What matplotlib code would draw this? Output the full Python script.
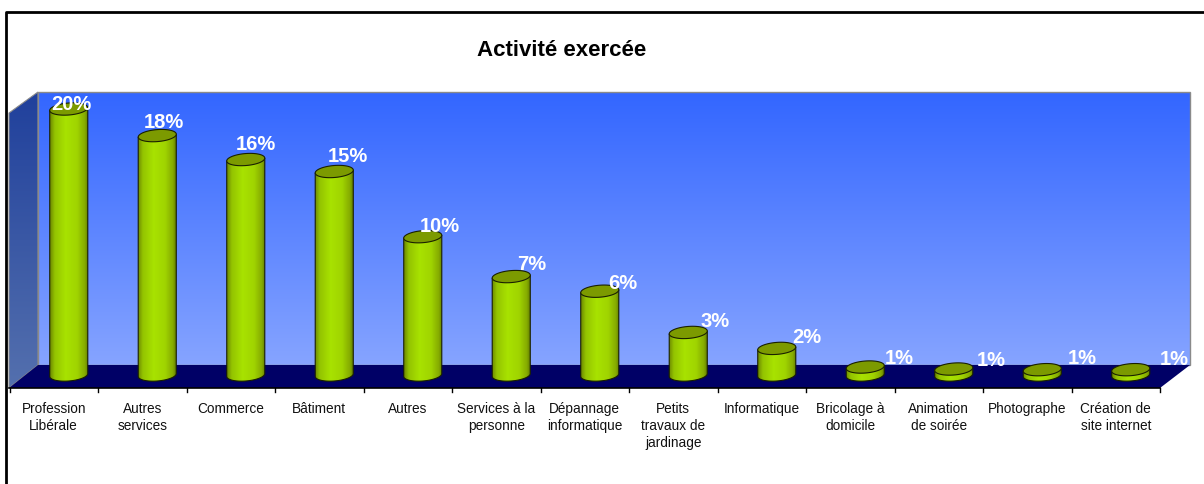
import numpy as np
import matplotlib
matplotlib.use("Agg")
import matplotlib.pyplot as plt
from matplotlib.patches import Polygon, PathPatch
from matplotlib.path import Path
from matplotlib.colors import LinearSegmentedColormap

categories = ["Profession\nLibérale", "Autres\nservices", "Commerce", "Bâtiment", "Autres",
              "Services à la\npersonne", "Dépannage\ninformatique", "Petits\ntravaux de\njardinage",
              "Informatique", "Bricolage à\ndomicile", "Animation\nde soirée", "Photographe",
              "Création de\nsite internet"]
heights = [20.0, 18.0, 16.2, 15.3, 10.4, 7.4, 6.3, 3.2, 2.0, 0.6, 0.45, 0.4, 0.4]
labels = ["20%", "18%", "16%", "15%", "10%", "7%", "6%", "3%", "2%", "1%", "1%", "1%", "1%"]

W, H = 1204, 484
plt.rcParams["font.family"] = ["Liberation Sans", "DejaVu Sans"]
fig = plt.figure(figsize=(W / 100, H / 100), dpi=100, facecolor="white")

# background in pixels
bg = fig.add_axes([0, 0, 1, 1])
bg.axis("off")

wall_cm = LinearSegmentedColormap.from_list("wall", ["#3366ff", "#86a4ff"])
side_cm = LinearSegmentedColormap.from_list("side", ["#20409c", "#5470ae"])
grad = np.linspace(0, 1, 256).reshape(-1, 1)

bg.imshow(grad, extent=(38, 1190, 365, 92), cmap=wall_cm, aspect="auto", zorder=1)
bg.add_patch(Polygon([(38, 92), (1190, 92), (1190, 365), (38, 365)], fc="none", ec="#8a8a8a", lw=1, zorder=2))
im2 = bg.imshow(grad, extent=(9, 38, 388, 92), cmap=side_cm, aspect="auto", zorder=1)
side = Polygon([(9, 113), (38, 92), (38, 365), (9, 388)], fc="none", ec="#8a8a8a", lw=0.8, zorder=2)
bg.add_patch(side)
im2.set_clip_path(side)
bg.add_patch(Polygon([(38, 365), (1190, 365), (1160, 388), (9, 388)], fc="#000066", ec="none", zorder=2))
bg.plot([9, 1160], [388, 388], color="black", lw=1.2, zorder=3)
bg.set_xlim(0, W)
bg.set_ylim(H, 0)

# frame and title
bg.plot([6, 6, W], [H, 11.5, 11.5], color="black", lw=2, zorder=5, clip_on=False)
bg.text(562, 51, "Activité exercée", ha="center", va="center", fontsize=16, fontweight="bold", color="black")

# category axis
tick_step = (1160 - 9.5) / len(categories)
for i, cat in enumerate(categories):
    bg.plot([9.5 + i * tick_step] * 2, [388, 392], color="black", lw=1, zorder=3)
    bg.text(9.5 + (i + 0.5) * tick_step, 402, cat, ha="center", va="top", fontsize=9.8,
            color="#111111", linespacing=1.27)
bg.plot([1160, 1160], [388, 392], color="black", lw=1, zorder=3)

# bars: x = category index, y = percent, 13.3 px per percent
px = 13.3
ax = fig.add_axes([24.5 / W, 1 - 388 / H, (1160 - 9.5) / W, (388 - 55) / H])
ax.set_xlim(-0.5, len(categories) - 0.5)
ax.set_ylim(-13 / px, (375 - 55) / px)
ax.axis("off")

body_cm = LinearSegmentedColormap.from_list(
    "body", [(0, "#6f8c00"), (0.12, "#94c400"), (0.4, "#a8e200"), (0.7, "#a0d400"), (0.9, "#86ac00"), (1, "#5f7800")])
across = np.linspace(0, 1, 64).reshape(1, -1)
bar_w = 0.43
ell_h = 12 / px
tilt = 0.5
theta = np.linspace(0, 2 * np.pi, 81)
ex = bar_w / 2 * np.cos(theta)
ey = ell_h / 2 * np.sin(theta) + tilt * ex
# lower half of the disc, left to right
low = theta[40:]
lx = bar_w / 2 * np.cos(low)
ly = ell_h / 2 * np.sin(low) + tilt * lx

# labels drift right of their bars, first one sits lower
label_dy = [5, 13, 15, 15, 10, 12, 8, 11, 11, 9, 9, 11, 10]
for i, v in enumerate(heights):
    verts = list(zip(i + lx, ly))
    verts += [(i + bar_w / 2, v + tilt * bar_w / 2), (i - bar_w / 2, v - tilt * bar_w / 2), (i + lx[0], ly[0])]
    body = PathPatch(Path(verts), fc="none", ec="#1a2000", lw=0.8, zorder=4)
    ax.add_patch(body)
    img = ax.imshow(across, extent=(i - bar_w / 2, i + bar_w / 2, -2 * ell_h, v + ell_h), cmap=body_cm,
                    aspect="auto", zorder=3)
    img.set_clip_path(body)
    ax.add_patch(Polygon(np.column_stack([i + ex, v + ey]), fc="#7c9a00", ec="#1a2000", lw=0.8, zorder=5))
    ax.annotate(labels[i], (i, v), xytext=(3 + 3.4 * i, label_dy[i]), textcoords="offset pixels", ha="center",
                va="center", color="white", fontsize=14.5, fontweight="bold", zorder=6, annotation_clip=False)
ax.set_xlim(-0.5, len(categories) - 0.5)
ax.set_ylim(-13 / px, (375 - 55) / px)

fig.savefig("out.png", dpi=100, facecolor="white")
